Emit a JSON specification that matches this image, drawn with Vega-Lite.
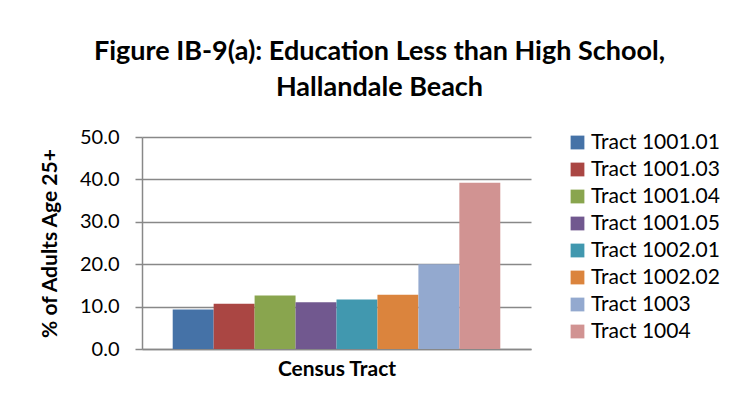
{
  "$schema": "https://vega.github.io/schema/vega-lite/v6.json",
  "autosize": {"type": "none"},
  "width": 389,
  "height": 212,
  "padding": {"left": 142, "top": 137, "right": 212, "bottom": 62},
  "background": "white",
  "title": {
    "text": ["Figure IB-9(a): Education Less than High School,", "Hallandale Beach"],
    "font": "Lato",
    "fontSize": 27,
    "fontWeight": "bold",
    "color": "#000000",
    "lineHeight": 36,
    "anchor": "middle",
    "dx": 43,
    "offset": 25
  },
  "data": {
    "values": [
      {"tract": "Tract 1001.01", "pct": 9.3},
      {"tract": "Tract 1001.03", "pct": 10.7},
      {"tract": "Tract 1001.04", "pct": 12.6},
      {"tract": "Tract 1001.05", "pct": 11.0},
      {"tract": "Tract 1002.01", "pct": 11.7},
      {"tract": "Tract 1002.02", "pct": 12.8},
      {"tract": "Tract 1003", "pct": 20.0},
      {"tract": "Tract 1004", "pct": 39.2}
    ]
  },
  "mark": {"type": "bar"},
  "encoding": {
    "x": {
      "field": "tract",
      "type": "nominal",
      "sort": null,
      "scale": {"paddingInner": 0, "paddingOuter": 0.75},
      "axis": {
        "title": "Census Tract",
        "labels": false,
        "ticks": false,
        "domain": true,
        "domainColor": "#888888",
        "domainWidth": 1.5,
        "titleFont": "Lato",
        "titleFontSize": 21,
        "titleFontWeight": "bold",
        "titleColor": "#000000",
        "titlePadding": 9
      }
    },
    "y": {
      "field": "pct",
      "type": "quantitative",
      "scale": {"domain": [0, 50], "nice": false},
      "axis": {
        "title": "% of Adults Age 25+",
        "values": [0, 10, 20, 30, 40, 50],
        "format": ".1f",
        "grid": true,
        "gridColor": "#888888",
        "gridWidth": 1.5,
        "domainColor": "#888888",
        "domainWidth": 1.5,
        "tickColor": "#888888",
        "tickWidth": 1.5,
        "tickSize": 7,
        "labelFont": "Lato",
        "labelFontSize": 20,
        "labelColor": "#000000",
        "labelPadding": 16,
        "titleFont": "Lato",
        "titleFontSize": 21,
        "titleFontWeight": "bold",
        "titleColor": "#000000",
        "titlePadding": 19
      }
    },
    "color": {
      "field": "tract",
      "type": "nominal",
      "sort": null,
      "scale": {
        "range": ["#4572A7", "#AA4643", "#89A54E", "#71588F", "#4198AF", "#DB843D", "#93A9CF", "#D19392"]
      },
      "legend": {
        "title": null,
        "orient": "none",
        "legendX": 425,
        "legendY": -5,
        "padding": 0,
        "symbolType": "square",
        "symbolSize": 190,
        "symbolStrokeWidth": 0,
        "symbolOpacity": 1,
        "labelFont": "Lato",
        "labelFontSize": 21,
        "labelColor": "#000000",
        "labelOffset": 3,
        "rowPadding": 5,
        "labelLimit": 300
      }
    }
  },
  "config": {
    "view": {"stroke": null},
    "axis": {"gridCap": "butt"}
  }
}
